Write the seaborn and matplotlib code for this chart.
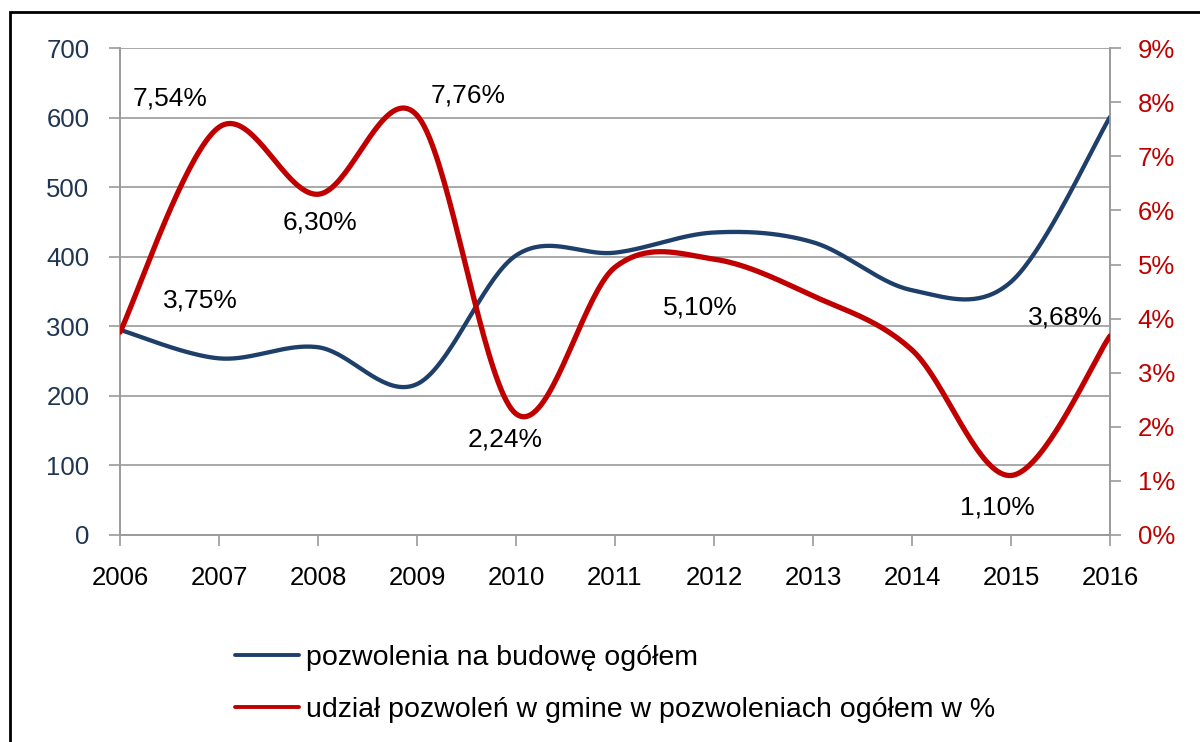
import numpy as np
import pandas as pd
import matplotlib
matplotlib.use('Agg')
import matplotlib.pyplot as plt
import seaborn as sns
from matplotlib.patches import Rectangle
from matplotlib.lines import Line2D

years = [2006, 2007, 2008, 2009, 2010, 2011, 2012, 2013, 2014, 2015, 2016]
permits = [295, 254, 270, 217, 402, 406, 435, 421, 352, 364, 601]
share = [3.75, 7.54, 6.30, 7.76, 2.24, 4.95, 5.10, 4.42, 3.42, 1.10, 3.68]

permits_name = 'pozwolenia na budowę ogółem'
share_name = 'udział pozwoleń w gmine w pozwoleniach ogółem w %'

# which points carry a label, and where the label sits (pixel offset)
label_years = [2006, 2007, 2008, 2009, 2010, 2012, 2015, 2016]
label_offsets = [(80, 32), (-49, 29), (2, -28), (51, 20), (-11, -26), (-14, -48), (-14, -32), (-45, 18)]

navy = '#1F3F6B'
red = '#C00000'
grey = '#9A9A9A'


def smooth(xs, ys, steps=40):
    # excel style smoothed line: cubic bezier with catmull-rom tangents
    p = np.column_stack([xs, ys]).astype(float)
    n = len(p)
    out = []
    for i in range(n - 1):
        p0 = p[max(i - 1, 0)]
        p1 = p[i]
        p2 = p[i + 1]
        p3 = p[min(i + 2, n - 1)]
        c1 = p1 + (p2 - p0) / 6
        c2 = p2 - (p3 - p1) / 6
        t = np.linspace(0, 1, steps, endpoint=(i == n - 2))[:, None]
        seg = ((1 - t) ** 3) * p1 + 3 * ((1 - t) ** 2) * t * c1 + 3 * (1 - t) * t ** 2 * c2 + t ** 3 * p2
        out.append(seg)
    out = np.vstack(out)
    return out[:, 0], out[:, 1]


sns.set_style('white')
plt.rcParams['font.family'] = ['Liberation Sans', 'DejaVu Sans']

fig = plt.figure(figsize=(12, 7.42), dpi=100)
ax = fig.add_axes([0.1, 0.279, 0.825, 0.656])
ax2 = ax.twinx()

bx, by = smooth(years, permits)
rx, ry = smooth(years, share)
df_blue = pd.DataFrame({'rok': bx, 'wartosc': by})
df_red = pd.DataFrame({'rok': rx, 'wartosc': ry})

sns.lineplot(data=df_blue, x='rok', y='wartosc', ax=ax, color=navy, linewidth=3.1, sort=False, zorder=3)
sns.lineplot(data=df_red, x='rok', y='wartosc', ax=ax2, color=red, linewidth=3.8, sort=False, zorder=3)

ax.set_xlim(2006, 2016)
ax.set_ylim(0, 700)
ax2.set_ylim(0, 9)
ax.set_xticks(years)
ax.set_xticklabels([str(y) for y in years])
ax.set_yticks(range(0, 701, 100))
ax2.set_yticks(range(0, 10))
ax2.set_yticklabels([f'{v}%' for v in range(0, 10)])
ax.set_xlabel('')
ax.set_ylabel('')
ax2.set_ylabel('')

ax.grid(axis='y', color=grey, linewidth=1.2)
ax.set_axisbelow(True)
for a in (ax, ax2):
    a.spines['top'].set_visible(False)
    for s in ('left', 'right', 'bottom'):
        a.spines[s].set_color(grey)
        a.spines[s].set_linewidth(1.2)

ax.tick_params(axis='y', direction='out', length=8, width=1.2, color=grey, labelsize=18.5, labelcolor='#1F3552', pad=14, left=True)
ax.tick_params(axis='x', direction='out', length=8, width=1.2, color=grey, labelsize=18.5, labelcolor='black', pad=14, bottom=True)
ax2.tick_params(axis='y', direction='out', length=8, width=1.2, color=grey, labelsize=18.5, labelcolor=red, pad=12, right=True)

ax2.set_zorder(ax.get_zorder() + 1)
ax2.patch.set_visible(False)

for yr, (dx, dy) in zip(label_years, label_offsets):
    v = share[years.index(yr)]
    txt = f'{v:.2f}%'.replace('.', ',')
    ax2.annotate(txt, (yr, v), xytext=(dx, dy), textcoords='offset pixels',
                 ha='center', va='center', fontsize=19, color='black', zorder=5)

handles = [Line2D([], [], color=navy, linewidth=2.8), Line2D([], [], color=red, linewidth=2.8)]
leg = fig.legend(handles, [permits_name, share_name], loc='upper left', bbox_to_anchor=(0.196, 1 - 645 / 742),
                 frameon=False, fontsize=20.5, handlelength=2.25, handletextpad=0.22, labelspacing=0.9,
                 borderaxespad=0, borderpad=0, bbox_transform=fig.transFigure)
for t in leg.get_texts():
    t.set_color('black')

fig.patches.append(Rectangle((10 / 1200, -0.1), 1.2, 0.1 + 1 - 12 / 742, transform=fig.transFigure,
                             fill=False, edgecolor='black', linewidth=2))

fig.savefig('out.png', dpi=100)
